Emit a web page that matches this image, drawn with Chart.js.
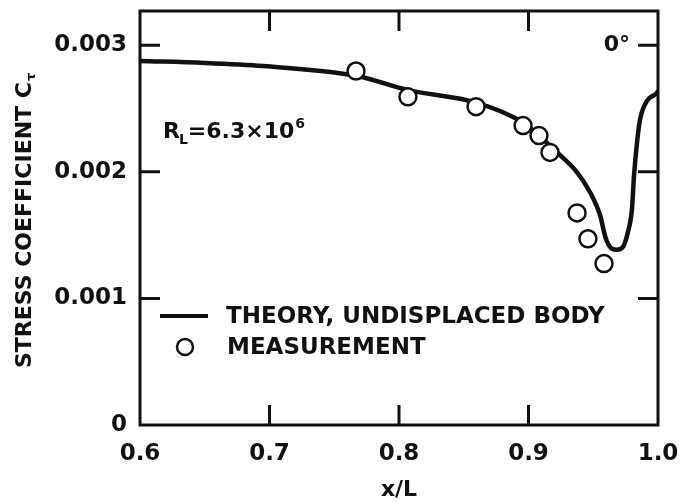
<!DOCTYPE html>
<html>
<head>
<meta charset="utf-8">
<script src="https://cdn.jsdelivr.net/npm/chart.js@4.4.1/dist/chart.umd.min.js"></script>
<style>
  html, body { margin: 0; padding: 0; background: #fff; }
  canvas { display: block; }
</style>
</head>
<body>
<canvas id="c" width="681" height="503"></canvas>
<script>
// ---- data ----
const xTickValues = [0.6, 0.7, 0.8, 0.9, 1.0];
const xTickLabels = ['0.6', '0.7', '0.8', '0.9', '1.0'];
const yTickValues = [0, 0.001, 0.002, 0.003];
const yTickLabels = ['0', '0.001', '0.002', '0.003'];

const theoryX = [0.600, 0.650, 0.695, 0.7676, 0.8062, 0.8602, 0.8958, 0.922, 0.9375, 0.9475, 0.9552, 0.9598, 0.9645, 0.9683, 0.973, 0.9768, 0.9799, 0.9815, 0.9838, 0.9861, 0.9915, 0.9992, 1.000];
const theoryY = [0.002875, 0.002860, 0.002835, 0.002757, 0.002647, 0.002545, 0.002388, 0.002153, 0.001996, 0.001839, 0.001659, 0.001471, 0.001392, 0.001384, 0.001408, 0.001525, 0.001706, 0.001973, 0.002231, 0.002412, 0.002561, 0.002624, 0.002640];

const measX = [0.7668, 0.8069, 0.8595, 0.8958, 0.9081, 0.9166, 0.9375, 0.9459, 0.9583];
const measY = [0.002796, 0.002592, 0.002514, 0.002365, 0.002286, 0.002153, 0.001675, 0.001471, 0.001275];

const seriesNames = ['THEORY, UNDISPLACED BODY', 'MEASUREMENT'];
const yTitle = 'STRESS COEFFICIENT C';
const yTitleSub = 'τ';
const xTitle = 'x/L';
const noteMain = ['R', 'L', '=6.3×10', '6'];
const angleNote = '0°';

const INK = '#111';
const FONT = 'DejaVu Sans';

const decorPlugin = {
  id: 'decor',
  afterDraw(chart) {
    const ctx = chart.ctx;
    const a = chart.chartArea;
    const xs = chart.scales.x, ys = chart.scales.y;
    ctx.save();
    ctx.strokeStyle = INK;
    ctx.fillStyle = INK;
    // frame
    ctx.lineWidth = 3;
    ctx.strokeRect(a.left, a.top, a.right - a.left, a.bottom - a.top);
    // inward ticks
    const tl = 20;
    ctx.lineWidth = 3;
    ctx.beginPath();
    xTickValues.forEach(v => {
      const px = xs.getPixelForValue(v);
      if (px <= a.left + 2 || px >= a.right - 2) return;
      ctx.moveTo(px, a.bottom); ctx.lineTo(px, a.bottom - tl);
      ctx.moveTo(px, a.top); ctx.lineTo(px, a.top + tl);
    });
    yTickValues.forEach(v => {
      const py = ys.getPixelForValue(v);
      if (py >= a.bottom - 2 || py <= a.top + 2) return;
      ctx.moveTo(a.left, py); ctx.lineTo(a.left + tl, py);
      ctx.moveTo(a.right, py); ctx.lineTo(a.right - tl, py);
    });
    ctx.stroke();

    // legend
    const lx = a.left + 20, ly1 = a.top + 305, ly2 = a.top + 336;
    ctx.lineWidth = 4;
    ctx.beginPath();
    ctx.moveTo(lx, ly1); ctx.lineTo(lx + 48, ly1);
    ctx.stroke();
    ctx.lineWidth = 2.5;
    ctx.beginPath();
    ctx.fillStyle = '#fff';
    ctx.arc(lx + 25, ly2, 8, 0, Math.PI * 2);
    ctx.fill(); ctx.stroke();
    ctx.fillStyle = INK;
    ctx.font = 'bold 23px "' + FONT + '"';
    ctx.textAlign = 'left';
    ctx.textBaseline = 'middle';
    ctx.fillText(seriesNames[0], lx + 66, ly1 + 1);
    ctx.fillText(seriesNames[1], lx + 67, ly2 + 1);

    // R_L note
    let nx = a.left + 23, nb = a.top + 127;
    ctx.textBaseline = 'alphabetic';
    ctx.font = 'bold 22px "' + FONT + '"';
    ctx.fillText(noteMain[0], nx, nb); nx += ctx.measureText(noteMain[0]).width;
    ctx.font = 'bold 14px "' + FONT + '"';
    ctx.fillText(noteMain[1], nx - 1, nb + 6); nx += ctx.measureText(noteMain[1]).width - 1;
    ctx.font = 'bold 22px "' + FONT + '"';
    ctx.fillText(noteMain[2], nx, nb); nx += ctx.measureText(noteMain[2]).width;
    ctx.font = 'bold 14px "' + FONT + '"';
    ctx.fillText(noteMain[3], nx + 1, nb - 10);

    // 0 degree note
    ctx.font = 'bold 22px "' + FONT + '"';
    ctx.textAlign = 'right';
    ctx.textBaseline = 'middle';
    ctx.fillText(angleNote, a.right - 28, ys.getPixelForValue(0.003));

    // y title (rotated, with subscript)
    ctx.save();
    ctx.translate(25, a.top + 357);
    ctx.rotate(-Math.PI / 2);
    ctx.textAlign = 'left';
    ctx.textBaseline = 'middle';
    ctx.font = 'bold 22px "' + FONT + '"';
    ctx.fillText(yTitle, 0, 0);
    const w = ctx.measureText(yTitle).width;
    ctx.font = 'bold 13px "' + FONT + '"';
    ctx.fillText(yTitleSub, w + 1, 7);
    ctx.restore();

    ctx.restore();
  }
};

const tickFont = { family: FONT, weight: 'bold', size: 23 };

new Chart(document.getElementById('c'), {
  type: 'line',
  data: {
    datasets: [
      {
        label: seriesNames[1],
        data: measX.map((x, i) => ({ x: x, y: measY[i] })),
        showLine: false,
        pointStyle: 'circle',
        pointRadius: 8.5,
        pointBorderWidth: 2.5,
        pointBackgroundColor: '#fff',
        pointBorderColor: INK,
        order: 0
      },
      {
        label: seriesNames[0],
        data: theoryX.map((x, i) => ({ x: x, y: theoryY[i] })),
        borderColor: INK,
        borderWidth: 4.5,
        pointRadius: 0,
        cubicInterpolationMode: 'monotone',
        fill: false,
        order: 1
      }
    ]
  },
  options: {
    responsive: false,
    animation: false,
    devicePixelRatio: 1,
    layout: { padding: { top: 8, right: 23, left: 0, bottom: 0 } },
    plugins: { legend: { display: false }, tooltip: { enabled: false } },
    scales: {
      x: {
        type: 'linear',
        min: 0.6,
        max: 1.0,
        afterBuildTicks: s => { s.ticks = xTickValues.map(v => ({ value: v })); },
        afterFit: s => { s.height = 78; s.paddingLeft = 0; s.paddingRight = 0; },
        ticks: {
          autoSkip: false,
          maxRotation: 0,
          padding: 15,
          color: INK,
          font: tickFont,
          callback: v => xTickLabels[xTickValues.indexOf(v)]
        },
        grid: { display: false, drawTicks: false },
        border: { display: false },
        title: {
          display: true,
          text: xTitle,
          color: INK,
          font: { family: FONT, weight: 'bold', size: 22 },
          padding: { top: 0, bottom: 0 }
        }
      },
      y: {
        type: 'linear',
        min: 0,
        max: 0.00327,
        afterBuildTicks: s => { s.ticks = yTickValues.map(v => ({ value: v })); },
        afterFit: s => { s.width = 140; s.paddingTop = 0; s.paddingBottom = 0; },
        ticks: {
          autoSkip: false,
          padding: 13,
          color: INK,
          font: tickFont,
          callback: v => yTickLabels[yTickValues.indexOf(v)]
        },
        grid: { display: false, drawTicks: false },
        border: { display: false }
      }
    }
  },
  plugins: [decorPlugin]
});
</script>
</body>
</html>
